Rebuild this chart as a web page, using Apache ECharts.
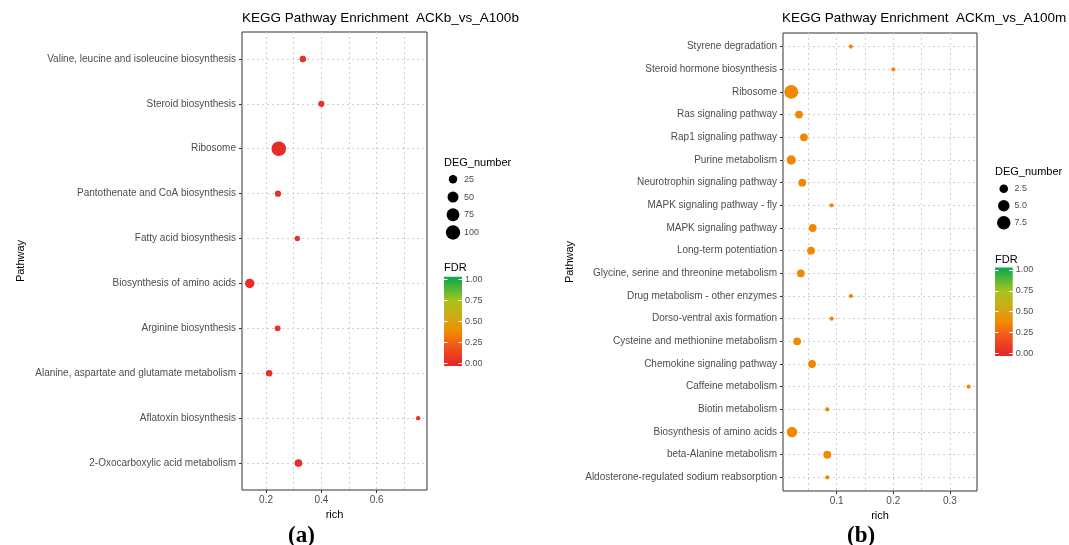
<!DOCTYPE html>
<html><head><meta charset="utf-8">
<script src="https://cdn.jsdelivr.net/npm/echarts@6/dist/echarts.min.js"></script>
<style>html,body{margin:0;padding:0;background:#fff}#c{width:1069px;height:545px}</style>
</head><body><div id="c"></div>
<script>
// ---------- Panel (a) ----------
const pathwaysA = ['Valine, leucine and isoleucine biosynthesis','Steroid biosynthesis','Ribosome','Pantothenate and CoA biosynthesis','Fatty acid biosynthesis','Biosynthesis of amino acids','Arginine biosynthesis','Alanine, aspartate and glutamate metabolism','Aflatoxin biosynthesis','2-Oxocarboxylic acid metabolism'];
const richA = [0.333, 0.40, 0.246, 0.243, 0.313, 0.141, 0.242, 0.211, 0.75, 0.317];
const degA = [14, 13, 105, 13, 11, 33, 12, 14, 10, 20];
const fdrA = [0.03, 0.03, 0.01, 0.03, 0.04, 0.02, 0.03, 0.03, 0.04, 0.02];
const xTicksA = [0.2, 0.4, 0.6];
const xGridA = [0.2, 0.3, 0.4, 0.5, 0.6, 0.7];
const sizeLegendA = [25, 50, 75, 100];

// ---------- Panel (b) ----------
const pathwaysB = ['Styrene degradation','Steroid hormone biosynthesis','Ribosome','Ras signaling pathway','Rap1 signaling pathway','Purine metabolism','Neurotrophin signaling pathway','MAPK signaling pathway - fly','MAPK signaling pathway','Long-term potentiation','Glycine, serine and threonine metabolism','Drug metabolism - other enzymes','Dorso-ventral axis formation','Cysteine and methionine metabolism','Chemokine signaling pathway','Caffeine metabolism','Biotin metabolism','Biosynthesis of amino acids','beta-Alanine metabolism','Aldosterone-regulated sodium reabsorption'];
const richB = [0.125, 0.2, 0.0196, 0.0333, 0.042, 0.0196, 0.039, 0.0909, 0.0575, 0.0545, 0.0365, 0.125, 0.0909, 0.030, 0.0563, 0.3333, 0.0833, 0.0209, 0.0833, 0.0833];
const degB = [1, 1, 8, 2, 2, 3, 2, 1, 2, 2, 2, 1, 1, 2, 2, 1, 1, 4, 2, 1];
const fdrB = [0.37, 0.37, 0.37, 0.37, 0.37, 0.37, 0.37, 0.37, 0.37, 0.37, 0.37, 0.37, 0.37, 0.37, 0.37, 0.37, 0.37, 0.37, 0.37, 0.37];
const xTicksB = [0.1, 0.2, 0.3];
const xGridB = [0.05, 0.1, 0.15, 0.2, 0.25, 0.3];
const sizeLegendB = [2.5, 5.0, 7.5];

// ---------- FDR colour scale (evenly spaced stops from 0 to 1) ----------
const fdrTicks = [0, 0.25, 0.5, 0.75, 1];
const fdrColors = ['#e62a2a', '#ec4520', '#f06414', '#f28a00', '#d9a212', '#c0b418', '#a6c41e', '#5ab835', '#14ab4c'];

const FONT = 'Liberation Sans, Arial, sans-serif';
const TXT = '#4d4d4d';

function sizer(vals, dmin, dmax) {
  const lo = Math.min(...vals), hi = Math.max(...vals);
  return v => dmin + (dmax - dmin) * Math.sqrt(Math.max(0, (v - lo) / (hi - lo)));
}
const sizeA = sizer(degA, 4.4, 14.6);
const sizeB = sizer(degB, 4.2, 13.8);

const cbMin = -0.032, cbMax = 1.031;
function cbGradient() {
  const n = fdrColors.length - 1;
  return new echarts.graphic.LinearGradient(0, 1, 0, 0,
    fdrColors.map((c, i) => ({ offset: (i / n - cbMin) / (cbMax - cbMin), color: c })));
}

const grids = [
  { left: 242, top: 32, width: 185, height: 458 },   // 0 panel a
  { left: 783, top: 33, width: 194, height: 458 },   // 1 panel b
  { left: 444, top: 170.4, width: 18, height: 71 },  // 2 size legend a
  { left: 444, top: 276.7, width: 18, height: 89.3 },// 3 colorbar a
  { left: 995, top: 180.2, width: 17.5, height: 51 },// 4 size legend b
  { left: 995, top: 267.4, width: 17.7, height: 88.5 }// 5 colorbar b
].map(g => Object.assign({ containLabel: false }, g));
grids[0].show = true; grids[0].borderColor = '#333'; grids[0].borderWidth = 1;
grids[1].show = true; grids[1].borderColor = '#333'; grids[1].borderWidth = 1;

const gridLine = { show: true, lineStyle: { color: '#cfcfcf', type: [2, 3], width: 1 } };

function mainX(gi, min, max, ticks) {
  return {
    type: 'value', gridIndex: gi, min, max, position: 'bottom',
    axisLine: { show: false, onZero: false },
    axisTick: { show: true, length: 3, lineStyle: { color: '#333' }, customValues: ticks },
    axisLabel: { customValues: ticks, fontSize: 10, color: TXT, margin: 5, fontFamily: FONT, formatter: v => String(v) },
    splitLine: { show: false },
    name: 'rich', nameLocation: 'middle', nameGap: 17,
    nameTextStyle: { fontSize: 11, color: '#000', fontFamily: FONT }
  };
}
function gridX(gi, min, max, lines) {
  return {
    type: 'value', gridIndex: gi, min, max, position: 'bottom',
    axisLine: { show: false, onZero: false }, axisLabel: { show: false },
    axisTick: { show: false, customValues: lines },
    splitLine: gridLine
  };
}
function mainY(gi, cats, gap) {
  const idx = cats.map((c, i) => i);
  return {
    type: 'value', gridIndex: gi, min: -0.6, max: cats.length - 0.4, inverse: true,
    axisLine: { show: false, onZero: false },
    axisTick: { show: true, length: 3, lineStyle: { color: '#333' }, customValues: idx },
    axisLabel: { customValues: idx, fontSize: 10, color: TXT, margin: 6, fontFamily: FONT, formatter: v => cats[Math.round(v)] },
    splitLine: gridLine,
    name: 'Pathway', nameLocation: 'middle', nameRotate: 90, nameGap: gap,
    nameTextStyle: { fontSize: 11, color: '#000', fontFamily: FONT }
  };
}
function hiddenX(gi, type) {
  return type === 'category'
    ? { type: 'category', gridIndex: gi, data: ['k'], show: false, axisLine: { onZero: false } }
    : { type: 'value', gridIndex: gi, min: 0, max: 1, show: false, axisLine: { onZero: false } };
}
function legendY(gi, labels) {
  return {
    type: 'category', gridIndex: gi, data: labels, inverse: true, position: 'right',
    axisLine: { show: false, onZero: false }, axisTick: { show: false }, splitLine: { show: false },
    axisLabel: { fontSize: 9, color: TXT, margin: 2, fontFamily: FONT }
  };
}
function cbY(gi, side, labels) {
  return {
    type: 'value', gridIndex: gi, min: cbMin, max: cbMax, position: side, z: 10,
    axisLine: { show: false, onZero: false },
    axisTick: { show: true, inside: true, length: 3.5, lineStyle: { color: '#ffffff', width: 1 }, customValues: fdrTicks },
    axisLabel: labels ? { customValues: fdrTicks, fontSize: 9, color: TXT, margin: 3, fontFamily: FONT, formatter: v => v.toFixed(2) } : { show: false },
    splitLine: { show: false }
  };
}

const labA = sizeLegendA.map(v => String(v));
const labB = sizeLegendB.map(v => v.toFixed(1));

const titleStyle = (fs) => ({ fontSize: fs, fontWeight: 'normal', color: '#000', fontFamily: FONT });

const option = {
  animation: false,
  backgroundColor: '#fff',
  textStyle: { fontFamily: FONT },
  title: [
    { text: 'KEGG Pathway Enrichment  ACKb_vs_A100b', left: 242, top: 11, padding: 0, textStyle: titleStyle(13.5) },
    { text: 'KEGG Pathway Enrichment  ACKm_vs_A100m', left: 782, top: 11, padding: 0, textStyle: titleStyle(13.5) },
    { text: 'DEG_number', left: 444, top: 157, padding: 0, textStyle: titleStyle(11) },
    { text: 'FDR', left: 444, top: 262, padding: 0, textStyle: titleStyle(11) },
    { text: 'DEG_number', left: 995, top: 166, padding: 0, textStyle: titleStyle(11) },
    { text: 'FDR', left: 995, top: 254.5, padding: 0, textStyle: titleStyle(11) },
    { text: '(a)', left: 288, top: 525, padding: 0, textStyle: { fontSize: 23, fontWeight: 'bold', color: '#000', fontFamily: 'Liberation Serif, Times New Roman, serif' } },
    { text: '(b)', left: 847, top: 525, padding: 0, textStyle: { fontSize: 23, fontWeight: 'bold', color: '#000', fontFamily: 'Liberation Serif, Times New Roman, serif' } }
  ],
  grid: grids,
  xAxis: [
    mainX(0, 0.113, 0.782, xTicksA),   // 0
    gridX(0, 0.113, 0.782, xGridA),    // 1
    mainX(1, 0.005, 0.348, xTicksB),   // 2
    gridX(1, 0.005, 0.348, xGridB),    // 3
    hiddenX(2, 'category'),            // 4
    hiddenX(3, 'value'),               // 5
    hiddenX(4, 'category'),            // 6
    hiddenX(5, 'value')                // 7
  ],
  yAxis: [
    mainY(0, pathwaysA, 216),          // 0
    mainY(1, pathwaysB, 208),          // 1
    legendY(2, labA),                  // 2
    cbY(3, 'right', true),             // 3
    cbY(3, 'left', false),             // 4
    legendY(4, labB),                  // 5
    cbY(5, 'right', true),             // 6
    cbY(5, 'left', false)              // 7
  ],
  visualMap: [{
    type: 'continuous', show: false, seriesIndex: [0, 1], dimension: 3,
    min: 0, max: 1, inRange: { color: fdrColors }
  }],
  series: [
    { type: 'scatter', xAxisIndex: 0, yAxisIndex: 0, z: 5, itemStyle: { opacity: 1 },
      data: pathwaysA.map((p, i) => [richA[i], i, degA[i], fdrA[i]]),
      symbolSize: d => sizeA(d[2]) },
    { type: 'scatter', xAxisIndex: 2, yAxisIndex: 1, z: 5, itemStyle: { opacity: 1 },
      data: pathwaysB.map((p, i) => [richB[i], i, degB[i], fdrB[i]]),
      symbolSize: d => sizeB(d[2]) },
    { type: 'scatter', xAxisIndex: 4, yAxisIndex: 2, itemStyle: { color: '#000', opacity: 1 },
      data: sizeLegendA.map((v, i) => ['k', labA[i], v]), symbolSize: d => sizeA(d[2]) },
    { type: 'scatter', xAxisIndex: 6, yAxisIndex: 5, itemStyle: { color: '#000', opacity: 1 },
      data: sizeLegendB.map((v, i) => ['k', labB[i], v]), symbolSize: d => sizeB(d[2]) },
    { type: 'custom', xAxisIndex: 5, yAxisIndex: 3, data: [[0, 0]], z: 1,
      renderItem: (params, api) => {
        const p0 = api.coord([0, cbMin]), p1 = api.coord([1, cbMax]);
        return { type: 'rect', shape: { x: p0[0], y: p1[1], width: p1[0] - p0[0], height: p0[1] - p1[1] }, style: { fill: cbGradient() } };
      } },
    { type: 'custom', xAxisIndex: 7, yAxisIndex: 6, data: [[0, 0]], z: 1,
      renderItem: (params, api) => {
        const p0 = api.coord([0, cbMin]), p1 = api.coord([1, cbMax]);
        return { type: 'rect', shape: { x: p0[0], y: p1[1], width: p1[0] - p0[0], height: p0[1] - p1[1] }, style: { fill: cbGradient() } };
      } }
  ]
};

const chart = echarts.init(document.getElementById('c'), null, { renderer: 'canvas' });
chart.setOption(option);
</script>
</body></html>
